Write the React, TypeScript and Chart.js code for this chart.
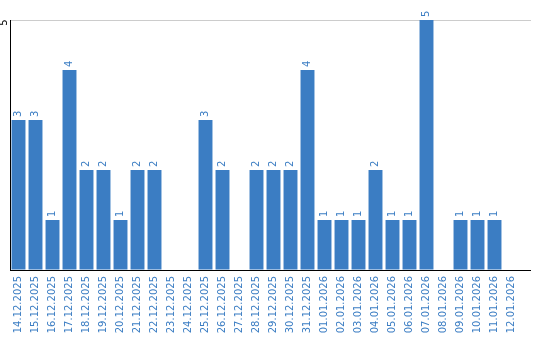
import React, { useEffect, useRef } from "react";
import { Chart, registerables } from "chart.js";

Chart.register(...registerables);

const categories = [
  "14.12.2025", "15.12.2025", "16.12.2025", "17.12.2025", "18.12.2025",
  "19.12.2025", "20.12.2025", "21.12.2025", "22.12.2025", "23.12.2025",
  "24.12.2025", "25.12.2025", "26.12.2025", "27.12.2025", "28.12.2025",
  "29.12.2025", "30.12.2025", "31.12.2025", "01.01.2026", "02.01.2026",
  "03.01.2026", "04.01.2026", "05.01.2026", "06.01.2026", "07.01.2026",
  "08.01.2026", "09.01.2026", "10.01.2026", "11.01.2026", "12.01.2026",
];

const values = [
  3, 3, 1, 4, 2, 2, 1, 2, 2, 0,
  0, 3, 2, 0, 2, 2, 2, 4, 1, 1,
  1, 2, 1, 1, 5, 0, 1, 1, 1, 0,
];

const yTicks = [5];

const BLUE = "#3b7dc3";
const FONT = "DejaVu Sans";

const decorPlugin = {
  id: "decor",
  afterDraw(chart: any) {
    const { ctx, chartArea } = chart;
    const ys = chart.scales.y;
    const meta = chart.getDatasetMeta(0);
    ctx.save();
    const ext = 11;
    ctx.lineWidth = 1;
    yTicks.forEach((t) => {
      const y = Math.round(ys.getPixelForValue(t)) + 0.5;
      ctx.strokeStyle = "#cccccc";
      ctx.beginPath();
      ctx.moveTo(chartArea.right, y);
      ctx.lineTo(chartArea.right + ext, y);
      ctx.stroke();
    });
    ctx.strokeStyle = "#000000";
    ctx.beginPath();
    const by = Math.round(chartArea.bottom) + 0.5;
    ctx.moveTo(chartArea.left, by);
    ctx.lineTo(chartArea.right + ext, by);
    ctx.stroke();

    ctx.fillStyle = "#000000";
    ctx.font = `10px "${FONT}"`;
    ctx.textAlign = "center";
    ctx.textBaseline = "middle";
    yTicks.forEach((t) => {
      const y = ys.getPixelForValue(t);
      ctx.save();
      ctx.translate(chartArea.left - 6, y + 2.5);
      ctx.rotate(-Math.PI / 2);
      ctx.fillText(String(t), 0, 0);
      ctx.restore();
    });

    ctx.fillStyle = BLUE;
    ctx.textAlign = "left";
    ctx.textBaseline = "middle";
    meta.data.forEach((bar: any, i: number) => {
      const v = values[i];
      if (!v) return;
      ctx.save();
      ctx.translate(bar.x, bar.y - 3);
      ctx.rotate(-Math.PI / 2);
      ctx.fillText(String(v), 0, 0);
      ctx.restore();
    });
    ctx.restore();
  },
};

export default function App() {
  const ref = useRef<HTMLCanvasElement>(null);
  useEffect(() => {
    if (!ref.current) return;
    const chart = new Chart(ref.current, {
      type: "bar",
      data: {
        labels: categories,
        datasets: [
          {
            data: values,
            backgroundColor: BLUE,
            borderWidth: 0,
            barPercentage: 0.82,
            categoryPercentage: 1,
          },
        ],
      },
      options: {
        animation: false,
        responsive: false,
        maintainAspectRatio: false,
        layout: { padding: { left: 10, right: 20, top: 20, bottom: 0 } },
        plugins: {
          legend: { display: false },
          tooltip: { enabled: false },
        },
        scales: {
          x: {
            grid: { display: false, drawTicks: false },
            border: { display: true, color: "#000000", width: 1 },
            ticks: {
              color: BLUE,
              font: { family: FONT, size: 10 },
              minRotation: 90,
              maxRotation: 90,
              autoSkip: false,
              padding: 6,
            },
            afterFit: (s: any) => {
              s.height = 70;
            },
          },
          y: {
            min: 0,
            max: 5,
            grid: {
              drawTicks: false,
              color: (c: any) => (c.tick && c.tick.value === 5 ? "#cccccc" : "rgba(0,0,0,0)"),
            },
            border: { display: true, color: "#000000", width: 1 },
            ticks: { display: false, stepSize: 5 },
            afterFit: (s: any) => {
              s.width = 0;
            },
          },
        },
      },
      plugins: [decorPlugin],
    });
    return () => chart.destroy();
  }, []);
  return (
    <div style={{ position: "fixed", left: 0, top: 0, width: 540, height: 340, background: "#fff" }}>
      <canvas ref={ref} width={540} height={340} />
    </div>
  );
}
